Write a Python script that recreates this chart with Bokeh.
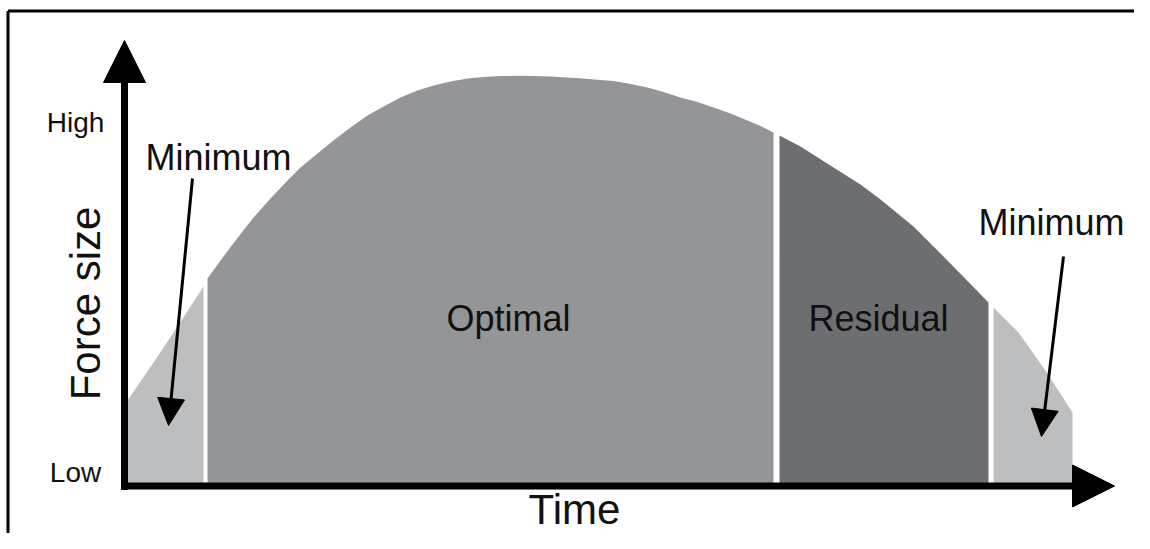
from bokeh.plotting import figure
from bokeh.models import Arrow, NormalHead, Label
from bokeh.embed import file_html
from bokeh.resources import INLINE

# ---- data (time / force in chart units, origin at the axes corner) ----
min_left_t = [3, 29, 49, 79]
min_left_f = [86, 124, 154, 200]

optimal_t = [83, 96, 111, 129, 146, 163, 176, 193, 209, 226, 243, 259, 276, 293, 309, 326, 343,
             359, 376, 393, 409, 426, 443, 459, 476, 489, 506, 523, 539, 556, 573, 589, 606, 623, 636, 649]
optimal_f = [208, 226, 246, 269, 288, 306, 319, 333, 346, 359, 371, 380, 389, 396, 401, 405, 408,
             409.5, 410.5, 410.7, 410.5, 410, 409, 408, 406.5, 405.5, 402.5, 399, 394.5, 389, 384.5, 379, 373, 366, 360.5, 354]

residual_t = [655, 676, 709, 736, 756, 789, 823, 864]
residual_f = [351, 340, 319, 302, 287, 260, 226, 184]

min_right_t = [869, 894, 921, 948]
min_right_f = [179, 154, 116, 74]

section_labels = ["Optimal", "Residual"]
y_tick_labels = ["High", "Low"]
x_title = "Time"
y_title = "Force size"

X_RANGE = (-124, 1010)
Y_RANGE = (-47, 486)
X_AXIS_END = 990
Y_AXIS_END = 446

LIGHT = "#bcbec0"
MID = "#939598"
DARK = "#6d6e71"
FONT = "Liberation Sans"

p = figure(width=1134, height=533, x_range=X_RANGE, y_range=Y_RANGE,
           output_backend="svg", toolbar_location=None,
           x_axis_location=None, y_axis_location=None,
           min_border=0, outline_line_color=None)
p.xgrid.visible = False
p.ygrid.visible = False
p.background_fill_color = "white"
p.border_fill_color = "white"

# filled sections
p.varea(x=min_left_t, y1=0, y2=min_left_f, fill_color=LIGHT)
p.varea(x=optimal_t, y1=0, y2=optimal_f, fill_color=MID)
p.varea(x=residual_t, y1=0, y2=residual_f, fill_color=DARK)
p.varea(x=min_right_t, y1=0, y2=min_right_f, fill_color=LIGHT)

# frame (left + top edges visible)
p.line(x=[-116.5, -116.5], y=[-60, 475.5], line_color="black", line_width=3)
p.line(x=[-116.5, 1030], y=[475.5, 475.5], line_color="black", line_width=3)

# axes with arrow heads
p.add_layout(Arrow(end=NormalHead(size=42, fill_color="black", line_color="black"),
                   x_start=0, y_start=-3.5, x_end=0, y_end=Y_AXIS_END,
                   line_width=7, line_color="black"))
p.add_layout(Arrow(end=NormalHead(size=42, fill_color="black", line_color="black"),
                   x_start=-3.5, y_start=0.5, x_end=X_AXIS_END, y_end=0.5,
                   line_width=7, line_color="black"))

# annotation arrows
p.add_layout(Arrow(end=NormalHead(size=27, fill_color="black", line_color="black"),
                   x_start=68, y_start=308, x_end=44, y_end=61,
                   line_width=3, line_color="black"))
p.add_layout(Arrow(end=NormalHead(size=27, fill_color="black", line_color="black"),
                   x_start=939, y_start=230, x_end=917, y_end=50,
                   line_width=3, line_color="black"))

def lab(x, y, text, size, angle=0):
    p.add_layout(Label(x=x, y=y, text=text, text_font=FONT,
                       text_font_size=f"{size}px", text_color="#111111",
                       text_align="center", text_baseline="middle", angle=angle))

lab(-49, 364, y_tick_labels[0], 28)
lab(-49, 14, y_tick_labels[1], 28)
lab(-39, 183, y_title, 42, angle=1.5707963)
lab(450, -23, x_title, 42)
lab(94, 329, "Minimum", 36)
lab(927, 264, "Minimum", 36)
lab(384, 168, section_labels[0], 36)
lab(754, 168, section_labels[1], 36)

open("out.html", "w").write(file_html(p, INLINE))
